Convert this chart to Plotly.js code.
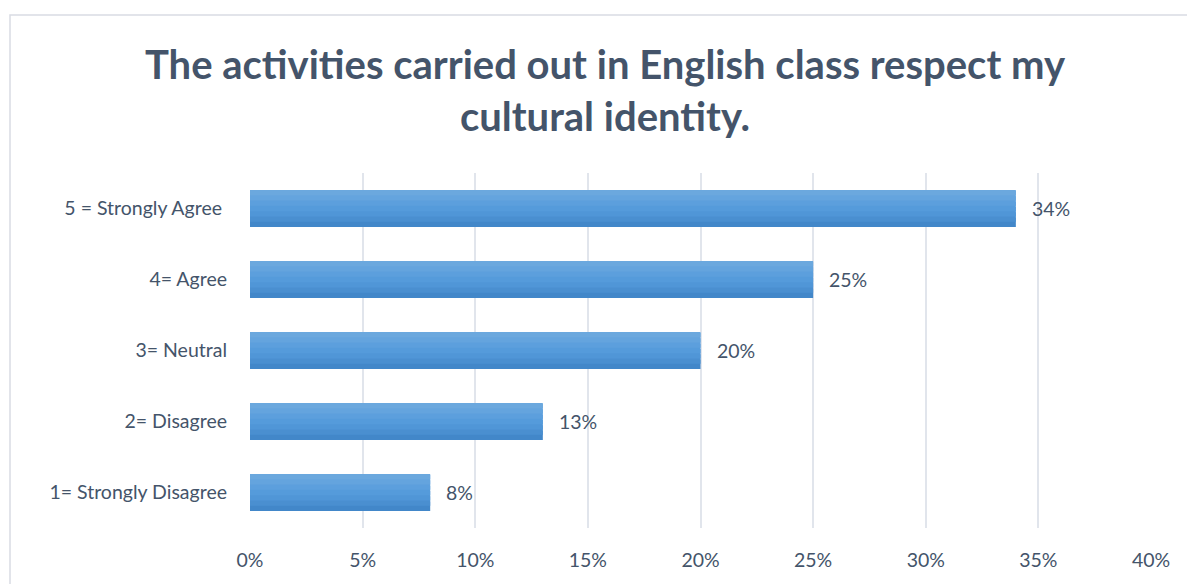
<!DOCTYPE html>
<html>
<head>
<meta charset="utf-8">
<script src="https://cdn.plot.ly/plotly-3.0.1.min.js"></script>
<style>html,body{margin:0;padding:0;background:#fff}#chart{width:1187px;height:584px}</style>
</head>
<body>
<div id="chart"></div>
<script>
const categories = ["1= Strongly Disagree", "2= Disagree", "3= Neutral", "4= Agree", "5 = Strongly Agree "];
const values = [8, 13, 20, 25, 34];
const valueLabels = ["8%", "13%", "20%", "25%", "34%"];
const tickValues = [0, 5, 10, 15, 20, 25, 30, 35, 40];
const tickLabels = ["0%", "5%", "10%", "15%", "20%", "25%", "30%", "35%", "40%"];
const titleText = "The activities carried out in English class respect my<br>cultural identity.";

// gradient stripes, bottom to top
const stripeColors = ["#4287C9", "#4A8FD0", "#5096D7", "#559BDB", "#5C9FDD", "#64A4DE", "#6BA8DE"];
const barWidth = 0.52;
const n = stripeColors.length;
const sw = barWidth / n;

const traces = stripeColors.map((c, i) => ({
  type: "bar",
  orientation: "h",
  y: categories,
  x: values,
  width: i === n - 1 ? sw : sw * 1.8,
  offset: -barWidth / 2 + i * sw,
  marker: { color: c, line: { width: 0 } },
  hoverinfo: "skip",
  showlegend: false
}));

const textColor = "#44546A";
const font = "Lato, 'Open Sans', sans-serif";
const annotations = categories.map((cat, i) => ({
  x: values[i], y: cat, xref: "x", yref: "y",
  text: valueLabels[i], showarrow: false,
  xanchor: "left", xshift: 14,
  font: { family: font, size: 19.5, color: textColor }
}));

const layout = {
  width: 1187, height: 584,
  margin: { l: 250, r: 36, t: 173, b: 56 },
  paper_bgcolor: "#ffffff", plot_bgcolor: "#ffffff",
  barmode: "overlay",
  bargap: 0.48,
  title: {
    text: titleText,
    font: { family: font, size: 40, color: textColor, weight: "bold" },
    x: 605 / 1187, xanchor: "center", xref: "container",
    y: 1 - 79 / 584, yanchor: "top", yref: "container"
  },
  xaxis: {
    range: [0, 40], tickvals: tickValues, ticktext: tickLabels,
    showgrid: true, gridcolor: "#E1E5EC", gridwidth: 2,
    zeroline: false, showline: false, ticks: "",
    ticklabelstandoff: 18,
    tickfont: { family: font, size: 19.5, color: textColor },
    fixedrange: true
  },
  yaxis: {
    type: "category", categoryorder: "array", categoryarray: categories,
    showgrid: false, zeroline: false, showline: false, ticks: "",
    ticklabelstandoff: 22,
    tickfont: { family: font, size: 19.5, color: textColor },
    fixedrange: true
  },
  shapes: [{
    type: "rect", xref: "paper", yref: "paper",
    x0: (10 - 250) / 901, x1: (1200 - 250) / 901,
    y0: (528 - 600) / 355, y1: (528 - 15) / 355,
    line: { color: "#D9DCE3", width: 1.5 }, fillcolor: "rgba(0,0,0,0)", layer: "below"
  }],
  annotations: annotations
};

Plotly.newPlot("chart", traces, layout, { displayModeBar: false, staticPlot: true });
</script>
</body>
</html>
